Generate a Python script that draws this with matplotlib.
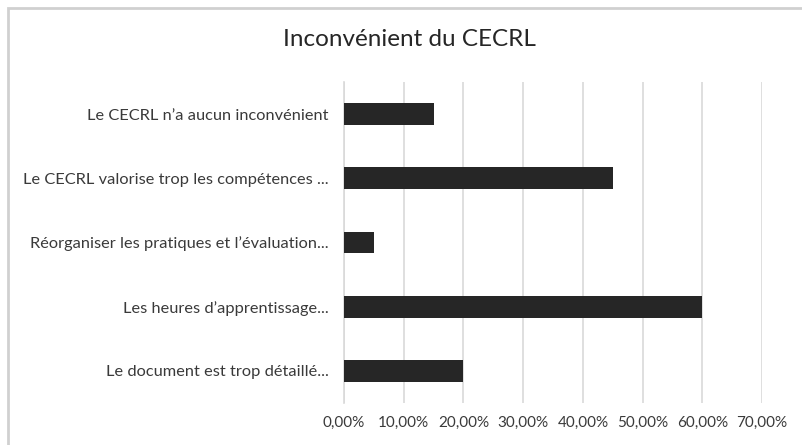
import matplotlib.pyplot as plt
from matplotlib.ticker import FuncFormatter, MultipleLocator
from matplotlib.patches import Rectangle

# Data (bottom to top as drawn by barh)
categories = [
    "Le document est trop détaillé...",
    "Les heures d’apprentissage...",
    "Réorganiser les pratiques et l’évaluation...",
    "Le CECRL valorise trop les compétences ...",
    "Le CECRL n’a aucun inconvénient",
]
values = [0.20, 0.60, 0.05, 0.45, 0.15]

plt.rcParams['font.family'] = ['Lato', 'DejaVu Sans']

fig = plt.figure(figsize=(8.03, 4.45), dpi=100)
ax = fig.add_axes([344 / 803, 1 - 403 / 445, (762 - 344) / 803, (403 - 82) / 445])

ax.barh(range(len(categories)), values, height=0.34, color='#262626', zorder=3)

ax.set_xlim(0, 0.70)
ax.set_ylim(-0.5, len(categories) - 0.5)
ax.xaxis.set_major_locator(MultipleLocator(0.10))
ax.xaxis.set_major_formatter(FuncFormatter(lambda v, p: f"{v * 100:.2f}%".replace('.', ',')))
ax.set_yticks(range(len(categories)))
ax.set_yticklabels(categories)

ax.grid(axis='x', color='#d9d9d9', linewidth=1.2, zorder=0)
for s in ['top', 'right', 'bottom']:
    ax.spines[s].set_visible(False)
ax.spines['left'].set_color('#d9d9d9')
ax.spines['left'].set_linewidth(1.2)
ax.tick_params(axis='both', length=0, colors='#3a3a3a')
ax.tick_params(axis='y', pad=11, labelsize=11.8)
ax.tick_params(axis='x', pad=9, labelsize=11)

fig.text(0.51, 1 - 40 / 445, "Inconvénient du CECRL", ha='center', va='center',
         fontsize=17.5, color='#262626')

# chart frame
fig.patches.append(Rectangle((8 / 803, -0.1), 1.2, 1 - 8 / 445 + 0.1,
                             transform=fig.transFigure, fill=False,
                             edgecolor='#d0d0d0', linewidth=2))

fig.savefig('out.png', dpi=100)
